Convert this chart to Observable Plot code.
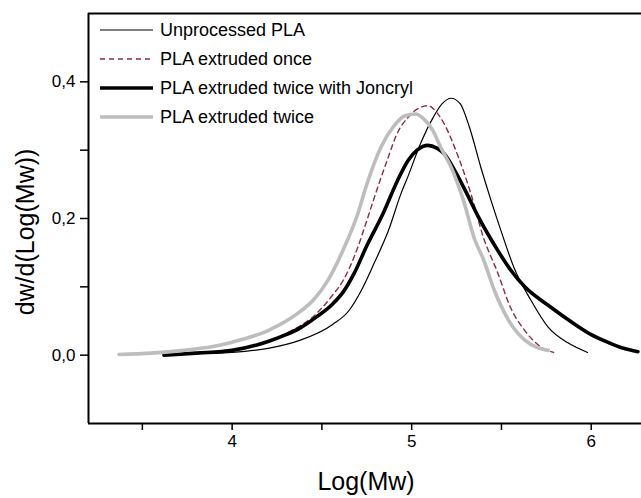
<!DOCTYPE html>
<html><head><meta charset="utf-8">
<script src="https://cdn.jsdelivr.net/npm/d3@7"></script>
<script src="https://cdn.jsdelivr.net/npm/@observablehq/plot@0.6"></script>
<style>body{margin:0;background:#fff} svg{font-family:"Liberation Sans",Arial,sans-serif}</style>
</head><body><div id="chart"></div>
<script>
const seriesNames = ["Unprocessed PLA", "PLA extruded once", "PLA extruded twice with Joncryl", "PLA extruded twice"];

const unprocessedLogMw = [3.63, 3.8, 4.0, 4.2, 4.38, 4.56, 4.65, 4.72, 4.79, 4.87, 4.94, 4.98, 5.05, 5.12, 5.17, 5.22, 5.27, 5.32, 5.385, 5.44, 5.5, 5.57, 5.665, 5.76, 5.87, 5.98];
const unprocessedDw    = [0.0, 0.002, 0.004, 0.01, 0.022, 0.045, 0.065, 0.095, 0.134, 0.182, 0.236, 0.262, 0.31, 0.348, 0.368, 0.376, 0.368, 0.335, 0.275, 0.228, 0.18, 0.128, 0.08, 0.041, 0.018, 0.004];

const onceLogMw = [3.63, 3.8, 4.0, 4.2, 4.31, 4.47, 4.56, 4.62, 4.7, 4.75, 4.81, 4.87, 4.92, 4.98, 5.03, 5.09, 5.14, 5.18, 5.26, 5.33, 5.4, 5.48, 5.55, 5.63, 5.72, 5.79];
const onceDw    = [0.0, 0.003, 0.007, 0.02, 0.033, 0.061, 0.088, 0.11, 0.158, 0.197, 0.245, 0.29, 0.325, 0.348, 0.36, 0.365, 0.355, 0.339, 0.29, 0.236, 0.172, 0.12, 0.07, 0.036, 0.012, 0.004];

const joncrylLogMw = [3.62, 3.8, 4.0, 4.2, 4.3, 4.38, 4.47, 4.56, 4.62, 4.68, 4.75, 4.84, 4.92, 4.98, 5.03, 5.09, 5.14, 5.18, 5.24, 5.31, 5.37, 5.48, 5.55, 5.63, 5.76, 5.91, 6.0, 6.1, 6.18, 6.26];
const joncrylDw    = [0.0, 0.003, 0.007, 0.02, 0.03, 0.04, 0.056, 0.075, 0.093, 0.12, 0.16, 0.207, 0.255, 0.285, 0.3, 0.307, 0.303, 0.295, 0.27, 0.235, 0.203, 0.153, 0.125, 0.1, 0.073, 0.045, 0.03, 0.018, 0.01, 0.005];

const twiceLogMw = [3.37, 3.55, 3.73, 3.9, 4.0, 4.2, 4.38, 4.45, 4.53, 4.62, 4.7, 4.75, 4.83, 4.9, 4.96, 5.02, 5.07, 5.12, 5.16, 5.22, 5.29, 5.35, 5.4, 5.46, 5.54, 5.63, 5.7, 5.76];
const twiceDw    = [0.001, 0.003, 0.007, 0.013, 0.019, 0.036, 0.064, 0.08, 0.108, 0.155, 0.207, 0.25, 0.305, 0.335, 0.35, 0.353, 0.345, 0.328, 0.305, 0.275, 0.225, 0.17, 0.14, 0.095, 0.051, 0.022, 0.011, 0.007];

const xMajorTicks = [4, 5, 6];
const xMinorTicks = [3.5, 4.5, 5.5];
const yMajorTicks = [0, 0.2, 0.4];
const yMinorTicks = [0.1, 0.3];
const xDomain = [3.2, 6.28];
const yDomain = [-0.1, 0.5];

const seriesStyles = [
  {stroke: "#000", strokeWidth: 1.2, dash: null},
  {stroke: "#8c2a48", strokeWidth: 1.4, dash: "5,4"},
  {stroke: "#000", strokeWidth: 3.6, dash: null},
  {stroke: "#bdbdbd", strokeWidth: 3.6, dash: null}
];

function rows(xs, ys) { return xs.map((x, i) => ({x, y: ys[i]})); }
const seriesData = [
  rows(unprocessedLogMw, unprocessedDw),
  rows(onceLogMw, onceDw),
  rows(joncrylLogMw, joncrylDw),
  rows(twiceLogMw, twiceDw)
];

const fmt = d => d.toFixed(1).replace(".", ",");

const lineMarks = seriesData.map((data, i) => Plot.line(data, {
  x: "x", y: "y", stroke: seriesStyles[i].stroke, strokeWidth: seriesStyles[i].strokeWidth,
  strokeDasharray: seriesStyles[i].dash, curve: "monotone-x"
}));

const chart = Plot.plot({
  width: 641, height: 498,
  marginLeft: 88, marginRight: 0, marginTop: 13, marginBottom: 75,
  style: {fontFamily: '"Liberation Sans", Arial, sans-serif', fontSize: "17px", color: "#000", background: "#fff"},
  x: {domain: xDomain},
  y: {domain: yDomain},
  marks: [
    Plot.axisX(xMajorTicks, {tickSize: 7, tickPadding: 4, tickFormat: d => String(d), label: null, strokeWidth: 1.5, fontSize: 17}),
    Plot.axisX(xMinorTicks, {tickSize: 7, tickFormat: () => "", label: null, strokeWidth: 1.5}),
    Plot.axisY(yMajorTicks, {tickSize: 8, tickPadding: 5, tickFormat: fmt, label: null, strokeWidth: 1.5, fontSize: 17}),
    Plot.axisY(yMinorTicks, {tickSize: 8, tickFormat: () => "", label: null, strokeWidth: 1.5}),
    Plot.ruleX([xDomain[0]], {strokeWidth: 2}),
    Plot.ruleY([yDomain[0]], {strokeWidth: 2}),
    Plot.ruleY([yDomain[1]], {strokeWidth: 2}),
    ...lineMarks
  ]
});

const svg = d3.select(chart);
svg.append("text")
  .attr("transform", "translate(25,232) rotate(-90)")
  .attr("text-anchor", "middle").attr("dy", "0.35em")
  .style("font-size", "25px").attr("fill", "#000")
  .text("dw/d(Log(Mw))");
svg.append("text")
  .attr("x", 366).attr("y", 490)
  .attr("text-anchor", "middle")
  .style("font-size", "25px").attr("fill", "#000")
  .text("Log(Mw)");

const legend = svg.append("g").attr("text-anchor", "start");
seriesNames.forEach((name, i) => {
  const y = 30 + 29 * i;
  const s = seriesStyles[i];
  legend.append("line").attr("x1", 100).attr("x2", 153).attr("y1", y).attr("y2", y)
    .attr("stroke", s.stroke).attr("stroke-width", s.strokeWidth)
    .attr("stroke-dasharray", s.dash);
  legend.append("text").attr("x", 160).attr("y", y).attr("dy", "0.35em")
    .attr("text-anchor", "start")
    .style("font-size", "18px").attr("fill", "#000").text(name);
});

document.getElementById("chart").appendChild(chart);
</script>
</body></html>
